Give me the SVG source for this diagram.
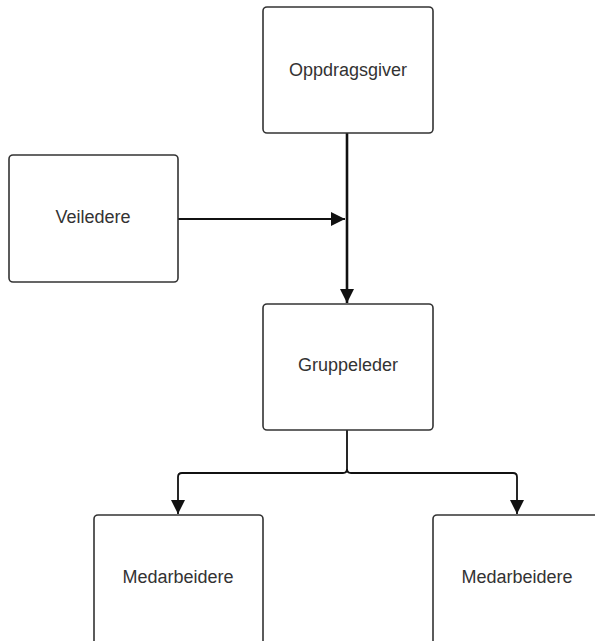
<svg xmlns="http://www.w3.org/2000/svg" width="595" height="641" viewBox="0 0 595 641">
<style>
.box{fill:#fff;stroke:#333;stroke-width:1.6}
.lbl{font-family:"Liberation Sans",Arial,sans-serif;font-size:18px;fill:#333;text-anchor:middle;dominant-baseline:central}
.c{fill:none;stroke:#111;stroke-width:1.8}
</style>
<defs>
<marker id="ah" markerUnits="userSpaceOnUse" markerWidth="14" markerHeight="16" refX="14" refY="8" orient="auto">
<path d="M0,1 L14,8 L0,15 Z" fill="#111"/>
</marker>
</defs>
<rect width="595" height="641" fill="#fff"/>
<g id="connectors">
<path class="c" d="M178,219 H345" marker-end="url(#ah)"/>
<path class="c" style="stroke-width:2.6" d="M347,133 V303" marker-end="url(#ah)"/>
<path class="c" d="M347,430 V469 Q347,473 343,473 H182 Q178,473 178,477 V514" marker-end="url(#ah)"/>
<path class="c" d="M347,469 Q347,473 351,473 H513 Q517,473 517,477 V514" marker-end="url(#ah)"/>
</g>
<g id="oppdragsgiver">
<rect class="box" x="263" y="7" width="170" height="126" rx="4"/>
<text class="lbl" x="348" y="70">Oppdragsgiver</text>
</g>
<g id="veiledere">
<rect class="box" x="9" y="155" width="169" height="127" rx="4"/>
<text class="lbl" x="93" y="217">Veiledere</text>
</g>
<g id="gruppeleder">
<rect class="box" x="263" y="304" width="170" height="126" rx="4"/>
<text class="lbl" x="348" y="365">Gruppeleder</text>
</g>
<g id="medarbeidere1">
<rect class="box" x="94" y="515" width="169" height="140" rx="4"/>
<text class="lbl" x="178" y="577">Medarbeidere</text>
</g>
<g id="medarbeidere2">
<rect class="box" x="433" y="515" width="170" height="140" rx="4"/>
<text class="lbl" x="517" y="577">Medarbeidere</text>
</g>
</svg>
